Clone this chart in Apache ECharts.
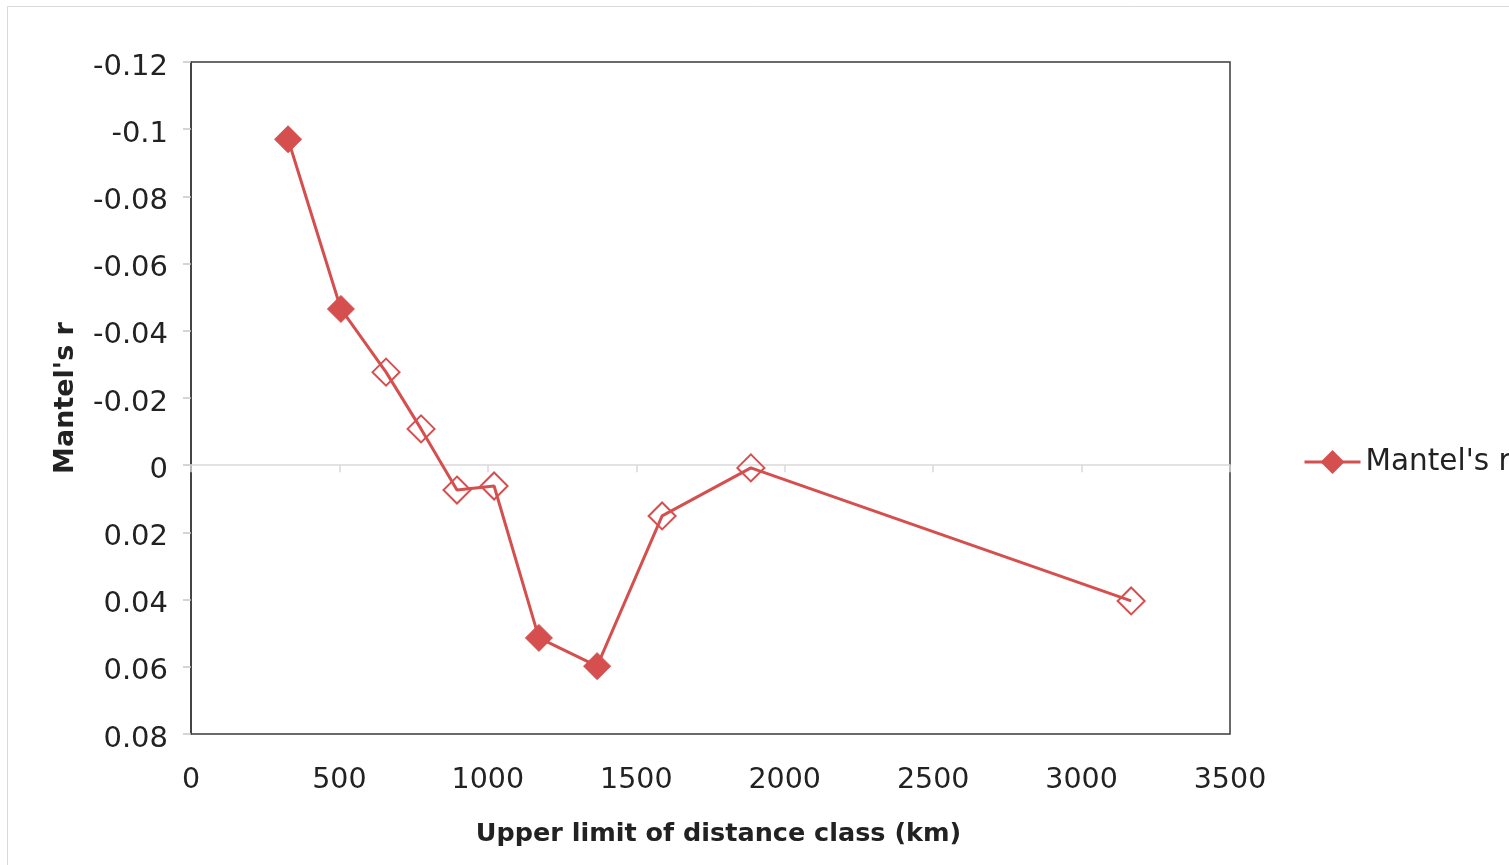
<!DOCTYPE html>
<html>
<head>
<meta charset="utf-8">
<script src="https://cdn.jsdelivr.net/npm/echarts@6/dist/echarts.min.js"></script>
<style>
  html, body { margin: 0; padding: 0; background: #ffffff; }
  #chart { width: 1509px; height: 865px; }
</style>
</head>
<body>
<div id="chart"></div>
<script>
// Upper limit of each distance class (km)
const distanceKm = [327, 505, 657, 775, 896, 1021, 1172, 1368, 1587, 1886, 3167];
// Mantel's r for each class
const mantelR = [-0.097, -0.0465, -0.0277, -0.0108, 0.0074, 0.0062, 0.0514, 0.0598, 0.0151, 0.0008, 0.0404];
// true where the correlation is significant (filled marker)
const significant = [true, true, false, false, false, false, true, true, false, false, false];

const seriesName = "Mantel's r";
const xTitle = 'Upper limit of distance class (km)';
const yTitle = "Mantel's r";

const RED = '#d64f4f';
const FONT = 'DejaVu Sans';

// filled diamonds for significant classes, hollow outlines otherwise
const points = distanceKm.map(function (x, i) {
  return {
    value: [x, mantelR[i]],
    itemStyle: significant[i]
      ? { color: RED, borderColor: RED, borderWidth: 1 }
      : { color: 'rgba(255,255,255,0)', borderColor: RED, borderWidth: 2 }
  };
});

const chart = echarts.init(document.getElementById('chart'), null, { renderer: 'canvas' });

chart.setOption({
  backgroundColor: '#ffffff',
  animation: false,
  graphic: [{
    type: 'rect',
    shape: { x: 7.5, y: 6.5, width: 1700, height: 1000 },
    style: { fill: 'none', stroke: '#d9d9d9', lineWidth: 1 },
    silent: true, z: -10
  }],
  grid: {
    left: 191, right: 279, top: 62, bottom: 131,
    show: true, borderColor: '#3a3a3a', borderWidth: 1.5, backgroundColor: 'transparent'
  },
  legend: {
    left: 1303, top: 447, padding: 0,
    itemWidth: 56, itemHeight: 30, itemGap: 10,
    textStyle: { fontFamily: FONT, fontSize: 29.5, color: '#222222' },
    lineStyle: { width: 3 },
    data: [{ name: seriesName, itemStyle: { color: RED } }]
  },
  xAxis: [{
    type: 'value', min: 0, max: 3500, interval: 500,
    position: 'bottom',
    axisLine: { show: false, onZero: false },
    axisTick: { show: false },
    splitLine: { show: false },
    axisLabel: {
      fontFamily: FONT, fontSize: 28.5, color: '#222222', margin: 32,
      formatter: function (v) { return String(v); }
    },
    name: xTitle, nameLocation: 'middle', nameGap: 87,
    nameTextStyle: { fontFamily: FONT, fontSize: 25.5, fontWeight: 'bold', color: '#222222', padding: [0, 0, 0, 16] }
  }, {
    // zero line with its tick marks
    type: 'value', min: 0, max: 3500, interval: 500,
    position: 'top',
    axisLine: { show: true, onZero: true, lineStyle: { color: '#d9d9d9', width: 1.5 } },
    axisTick: { show: true, inside: true, length: 7, lineStyle: { color: '#d9d9d9', width: 1.5 } },
    axisLabel: { show: false },
    splitLine: { show: false }
  }],
  yAxis: {
    type: 'value', inverse: true, min: -0.12, max: 0.08, interval: 0.02,
    axisLine: { show: true, lineStyle: { color: '#3a3a3a', width: 1.5 } },
    axisTick: { show: true, length: 8, lineStyle: { color: '#c8c8c8', width: 1.5 } },
    splitLine: { show: false },
    axisLabel: {
      fontFamily: FONT, fontSize: 29, color: '#222222', margin: 23,
      verticalAlign: 'top', lineHeight: 10,
      formatter: function (v) { return String(parseFloat(v.toFixed(2))); }
    },
    name: yTitle, nameLocation: 'middle', nameGap: 112, nameRotate: 90,
    nameTextStyle: { fontFamily: FONT, fontSize: 27, fontWeight: 'bold', color: '#222222' }
  },
  series: [{
    name: seriesName,
    type: 'line',
    xAxisIndex: 0,
    data: points,
    symbol: 'diamond',
    symbolSize: 27,
    lineStyle: { color: RED, width: 3 },
    itemStyle: { color: RED },
    z: 5
  }]
});
</script>
</body>
</html>
